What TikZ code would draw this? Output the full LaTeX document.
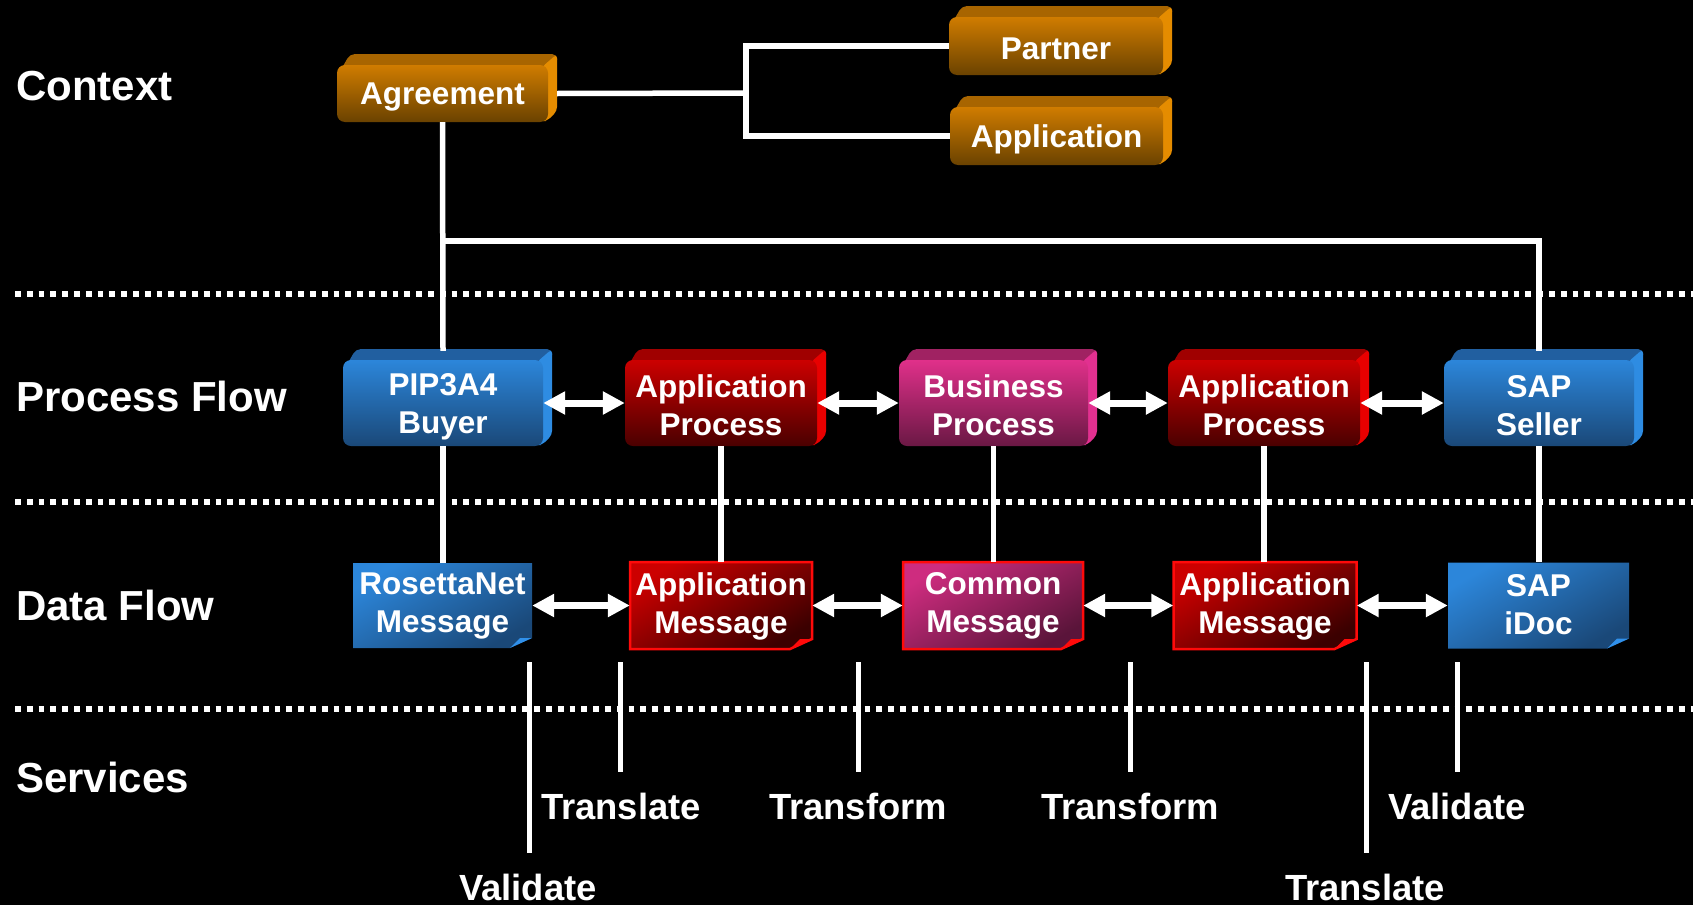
\documentclass[tikz,border=0pt]{standalone}
\usepackage{fontspec}
\setmainfont{Liberation Sans}
\usetikzlibrary{arrows.meta}
% colours
\definecolor{orangeLight}{HTML}{D07C00}
\definecolor{orangeDark}{HTML}{6A4200}
\definecolor{orangeTop}{HTML}{A86500}
\definecolor{orangeSide}{HTML}{E58C00}
\definecolor{blueLight}{HTML}{2C86DA}
\definecolor{blueDark}{HTML}{1A4878}
\definecolor{blueTop}{HTML}{215FA0}
\definecolor{blueSide}{HTML}{2E8CE2}
\definecolor{redLight}{HTML}{CC0000}
\definecolor{redDark}{HTML}{4A0000}
\definecolor{redTop}{HTML}{A00000}
\definecolor{redSide}{HTML}{E80000}
\definecolor{pinkLight}{HTML}{E0308A}
\definecolor{pinkDark}{HTML}{6A1844}
\definecolor{pinkTop}{HTML}{A02262}
\definecolor{pinkSide}{HTML}{E23090}
\definecolor{msgBorder}{HTML}{FF0A0A}
\definecolor{blueFold}{HTML}{3090EA}
\tikzset{
  cube/.style={rectangle, rounded corners=8pt, inner sep=0pt, shading angle=30},
  doc/.style={rectangle, inner sep=0pt},
  boxtext/.style={text=white, align=center, inner sep=0pt,
    font=\fontsize{31.5}{38}\selectfont\bfseries},
  blueBody/.style={top color=blueLight, bottom color=blueDark, shading angle=30},
  redBody/.style={top color=redLight, bottom color=redDark!80!black, shading angle=30, draw=msgBorder, line width=2.5pt, line join=miter},
  pinkBody/.style={top color=pinkLight!92!black, bottom color=pinkDark!85!black, shading angle=30, draw=msgBorder, line width=2.5pt, line join=miter},
  blueFoldc/.style={fill=blueFold},
  redFoldc/.style={fill=msgBorder},
  pinkFoldc/.style={fill=msgBorder},
  conn/.style={draw=white, line width=5.5pt},
  dbl/.style={draw=white, line width=7pt, {Triangle[length=22pt,width=22pt]}-{Triangle[length=22pt,width=22pt]}},
  dotline/.style={draw=white, line width=5.7pt, dash pattern=on 5.7pt off 6.1pt},
  svc/.style={draw=white, line width=5pt},
  lbl/.style={text=white, anchor=west, inner sep=0pt, font=\fontsize{42}{48}\selectfont\bfseries},
  svclbl/.style={text=white, inner sep=0pt, font=\fontsize{36.4}{40}\selectfont\bfseries},
}
% 3D box: name, x, y, w, h, colour prefix, text, text y offset
\newcommand\cubebox[8]{%
  \fill[#6Top, rounded corners=5pt] ({#2-#4/2+2},{#3-#5/2+8}) -- ({#2-#4/2+13},{#3-#5/2-11}) -- ({#2+#4/2+9},{#3-#5/2-11}) -- ({#2+#4/2+9},{#3-#5/2}) -- ({#2+#4/2},{#3-#5/2+8}) -- cycle;
  \fill[#6Side, rounded corners=4pt] ({#2+#4/2-6},{#3-#5/2+2}) -- ({#2+#4/2+9},{#3-#5/2-11}) -- ({#2+#4/2+9},{#3+#5/2-11}) -- ({#2+#4/2-1},{#3+#5/2-1}) -- ({#2+#4/2-6},{#3+#5/2-1}) -- cycle;
  \node[cube, top color=#6Light, bottom color=#6Dark, minimum width=#4pt, minimum height=#5pt] (#1) at (#2,#3) {};
  \node[boxtext] (#1t) at (#2,{#3+#8}) {#7};
}
% document box: name, x, y, w, h, prefix, text, text y offset
\newcommand\docbox[8]{%
  \path[#6Body] ({#2-#4/2},{#3-#5/2}) -- ({#2+#4/2},{#3-#5/2}) -- ({#2+#4/2},{#3+#5/2-10}) -- ({#2+#4/2-22},{#3+#5/2}) -- ({#2-#4/2},{#3+#5/2}) -- cycle;
  \path[#6Foldc] ({#2+#4/2-22},{#3+#5/2}) -- ({#2+#4/2},{#3+#5/2-10}) -- ({#2+#4/2-12},{#3+#5/2-10}) -- cycle;
  \node[doc, minimum width=#4pt, minimum height=#5pt] (#1) at (#2,#3) {};
  \node[boxtext] (#1t) at (#2,{#3+#8}) {#7};
}
\begin{document}
\begin{tikzpicture}[x=1pt, y=-1pt]
\fill[black] (0,0) rectangle (1693,905);
\useasboundingbox (0,0) rectangle (1693,905);

% separators
\draw[dotline] (15,294) -- (1693,294);
\draw[dotline] (15,502) -- (1693,502);
\draw[dotline] (15,709) -- (1693,709);

% row labels
\node[lbl] (lctx) at (16,86) {Context};
\node[lbl] (lproc) at (16,396) {Process Flow};
\node[lbl] (ldata) at (16,605) {Data Flow};
\node[lbl] (lsvc) at (16,777) {Services};

% context boxes
\cubebox{agr}{442.5}{93.5}{211}{57}{orange}{Agreement}{3.5}
\cubebox{partner}{1056}{46}{214}{58}{orange}{Partner}{3}
\cubebox{appctx}{1056.5}{136}{213}{58}{orange}{Application}{3.5}

% process boxes
\cubebox{buyer}{443}{403}{200}{86}{blue}{PIP3A4\\Buyer}{3.5}
\cubebox{apA}{721}{403}{192}{86}{red}{Application\\Process}{2.5}
\cubebox{bp}{993.5}{403}{189}{86}{pink}{Business\\Process}{2.5}
\cubebox{apB}{1264}{403}{192}{86}{red}{Application\\Process}{2.5}
\cubebox{seller}{1539}{403}{190}{86}{blue}{SAP\\Seller}{2.5}

% data boxes
\docbox{ros}{442.5}{605.5}{179}{85}{blue}{RosettaNet\\Message}{0.5}
\docbox{amA}{721}{605.5}{182}{87}{red}{Application\\Message}{0.5}
\docbox{cm}{993}{605.5}{180}{87}{pink}{Common\\Message}{0.5}
\docbox{amB}{1265}{605.5}{183}{87}{red}{Application\\Message}{0.5}
\docbox{idoc}{1538.5}{605.5}{181}{86}{blue}{SAP\\iDoc}{-1}

% context connectors
\coordinate (split) at (746,93);
\coordinate (bus) at (443,241);
\draw[conn] ([xshift=9pt]agr.east) -- (split);
\draw[conn] (partner.west) -| (split) |- (appctx.west);
\draw[conn] (agr.south) -- ([yshift=9pt]buyer.north);
\draw[conn] (bus) -| ([yshift=9pt]seller.north);

% process to data
\draw[conn] (buyer.south) -- (buyer.south |- ros.north);
\draw[conn] (apA.south) -- (apA.south |- amA.north);
\draw[conn] (bp.south) -- (bp.south |- cm.north);
\draw[conn] (apB.south) -- (apB.south |- amB.north);
\draw[conn] (seller.south) -- (seller.south |- idoc.north);

% double arrows
\draw[dbl] (buyer.east) -- (apA.west);
\draw[dbl] (apA.east) -- (bp.west);
\draw[dbl] (bp.east) -- (apB.west);
\draw[dbl] (apB.east) -- (seller.west);
\draw[dbl] (ros.east) -- (amA.west);
\draw[dbl] (amA.east) -- (cm.west);
\draw[dbl] (cm.east) -- (amB.west);
\draw[dbl] (amB.east) -- (idoc.west);

% services
\draw[svc] (529,662) -- (529,853);
\draw[svc] (620,662) -- (620,772);
\draw[svc] (858,662) -- (858,772);
\draw[svc] (1130,662) -- (1130,772);
\draw[svc] (1366,662) -- (1366,853);
\draw[svc] (1457,662) -- (1457,772);
\node[svclbl] (s1) at (621,806) {Translate};
\node[svclbl] (s2) at (528,887) {Validate};
\node[svclbl] (s3) at (858,806) {Transform};
\node[svclbl] (s4) at (1130,806) {Transform};
\node[svclbl] (s5) at (1457,806) {Validate};
\node[svclbl] (s6) at (1365,887) {Translate};
\end{tikzpicture}
\end{document}
